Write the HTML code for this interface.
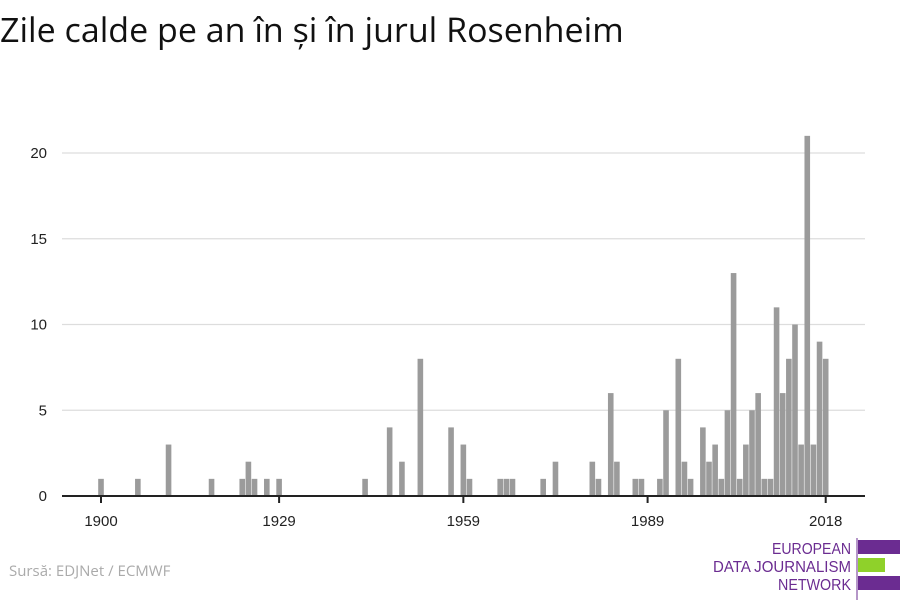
<!DOCTYPE html>
<html><head><meta charset="utf-8"><style>
body{margin:0;width:900px;height:600px;background:#fff;font-family:"Open Sans","Liberation Sans",sans-serif;overflow:hidden}
#title{position:absolute;left:0;top:6px;font-size:34px;color:#111;white-space:nowrap}
#src{position:absolute;left:9px;top:561px;font-size:15px;color:#aaa}
</style></head><body>
<div id="title">Zile calde pe an în și în jurul Rosenheim</div>
<svg id="chart" width="900" height="600" style="position:absolute;left:0;top:0"></svg>
<div id="src">Sursă: EDJNet / ECMWF</div>
<svg class="logo" width="200" height="62" style="position:absolute;left:700px;top:538px">
<line x1="157" y1="0" x2="157" y2="62" stroke="#6b2c91" stroke-width="1"/>
<text x="151" y="16" text-anchor="end" font-size="16" fill="#6b2c91" font-family="Liberation Sans Narrow, Liberation Sans, sans-serif" textLength="79" lengthAdjust="spacingAndGlyphs">EUROPEAN</text>
<text x="151" y="34" text-anchor="end" font-size="16" fill="#6b2c91" font-family="Liberation Sans Narrow, Liberation Sans, sans-serif" textLength="138" lengthAdjust="spacingAndGlyphs">DATA JOURNALISM</text>
<text x="151" y="52" text-anchor="end" font-size="16" fill="#6b2c91" font-family="Liberation Sans Narrow, Liberation Sans, sans-serif" textLength="73" lengthAdjust="spacingAndGlyphs">NETWORK</text>
<rect x="158" y="2" width="42" height="14" fill="#6b2c91"/>
<rect x="158" y="20" width="27" height="14" fill="#8fd12a"/>
<rect x="158" y="38" width="42" height="14" fill="#6b2c91"/>
</svg>
<script>
const years=[1900,1906,1911,1918,1923,1924,1925,1927,1929,1943,1947,1949,1952,1957,1959,1960,1965,1966,1967,1972,1974,1980,1981,1983,1984,1987,1988,1991,1992,1994,1995,1996,1998,1999,2000,2001,2002,2003,2004,2005,2006,2007,2008,2009,2010,2011,2012,2013,2014,2015,2016,2017,2018];
const values=[1,1,3,1,1,2,1,1,1,1,4,2,8,4,3,1,1,1,1,1,2,2,1,6,2,1,1,1,5,8,2,1,4,2,3,1,5,13,1,3,5,6,1,1,11,6,8,10,3,21,3,9,8];
const yTicks=[0,5,10,15,20];
const xTicks=[1900,1929,1959,1989,2018];
const svg=document.getElementById('chart');const NS='http://www.w3.org/2000/svg';
const x=y=>101+(y-1900)*(724.7/118);
const yS=v=>496-v*17.15;
function mk(t,a){const e=document.createElementNS(NS,t);for(const k in a)e.setAttribute(k,a[k]);svg.appendChild(e);return e;}
yTicks.forEach(v=>{
 if(v>0){const g=mk('line',{x1:62,x2:865,y1:yS(v),y2:yS(v),stroke:'#ddd','stroke-width':1.3});
 
 }
 const t=mk('text',{x:47,y:yS(v)+5,'text-anchor':'end','font-size':15,fill:'#222','font-family':'Liberation Sans, sans-serif'});t.textContent=v;
 
 
});
years.forEach((yr,i)=>{const r=mk('rect',{x:x(yr)-2.8,y:yS(values[i]),width:5.6,height:values[i]*17.15,fill:'#9b9b9b'});
 
 });
const ax=mk('line',{x1:62,x2:865,y1:496,y2:496,stroke:'#222','stroke-width':2});


xTicks.forEach(yr=>{mk('line',{x1:x(yr),x2:x(yr),y1:496,y2:503,stroke:'#222','stroke-width':2});
 const t=mk('text',{x:x(yr),y:526,'text-anchor':'middle','font-size':15,fill:'#222','font-family':'Liberation Sans, sans-serif'});t.textContent=yr;
 
 });
</script>
</body></html>
